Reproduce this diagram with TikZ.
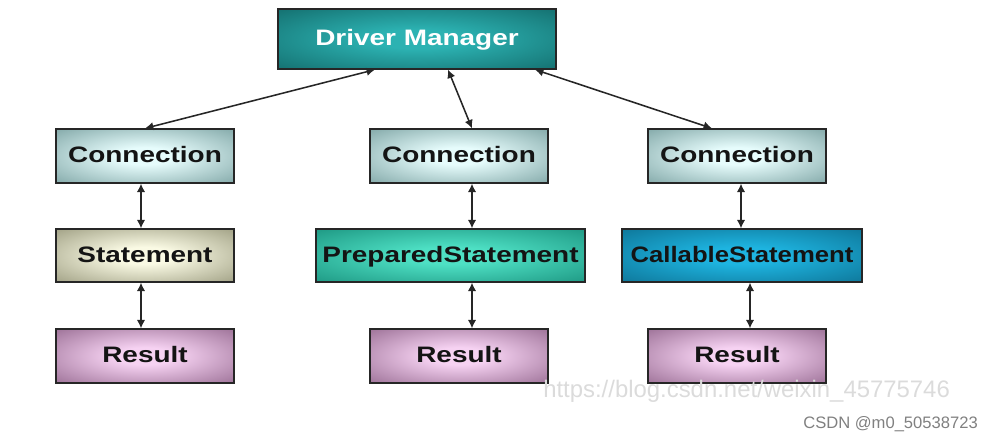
\documentclass[tikz,border=0pt]{standalone}
\usepackage{fontspec}
\setmainfont{Liberation Sans}
\newfontfamily\boxfont[FakeStretch=1.25]{Liberation Sans}
\usetikzlibrary{arrows.meta}

\definecolor{mgrout}{HTML}{0B5656}
\definecolor{mgrin}{HTML}{2CB2B2}
\definecolor{connout}{HTML}{5C8888}
\definecolor{connin}{HTML}{E6FCFC}
\definecolor{stmtout}{HTML}{7E7E60}
\definecolor{stmtin}{HTML}{FAFAE4}
\definecolor{prepout}{HTML}{0B7C6A}
\definecolor{prepin}{HTML}{4EE0C4}
\definecolor{callout}{HTML}{085F7E}
\definecolor{callin}{HTML}{1EB4E0}
\definecolor{resout}{HTML}{7A4C74}
\definecolor{resin}{HTML}{F6D2F2}

% soft glow inside the boxes
\colorlet{boxin}{white}
\colorlet{boxout}{gray}
\pgfdeclareradialshading[boxin,boxout]{glow}{\pgfpointorigin}{color(0bp)=(boxin); color(8bp)=(boxin); color(47bp)=(boxout); color(50bp)=(boxout)}

\begin{document}
\begin{tikzpicture}[x=1cm,y=1cm,>={Latex[length=6pt,width=6pt]}]
  \tikzstyle{box}=[draw=black!85, line width=0.9pt, shade, shading=glow, minimum width=4.45cm, minimum height=1.35cm, inner sep=1pt, text height=11.4pt, text depth=2pt, font=\boxfont\bfseries\fontsize{15.9}{18}\selectfont, text=black!92]
  \tikzstyle{mgr}=[box, /utils/exec={\colorlet{boxin}{mgrin}\colorlet{boxout}{mgrout}}, text=white, minimum width=6.95cm, minimum height=1.5cm]
  \tikzstyle{conn}=[box, /utils/exec={\colorlet{boxin}{connin}\colorlet{boxout}{connout}}]
  \tikzstyle{stmt}=[box, /utils/exec={\colorlet{boxin}{stmtin}\colorlet{boxout}{stmtout}}, minimum height=1.325cm]
  \tikzstyle{prep}=[box, /utils/exec={\colorlet{boxin}{prepin}\colorlet{boxout}{prepout}}, minimum width=6.725cm, minimum height=1.325cm]
  \tikzstyle{call}=[box, /utils/exec={\colorlet{boxin}{callin}\colorlet{boxout}{callout}}, minimum width=6cm, minimum height=1.325cm]
  \tikzstyle{res}=[box, /utils/exec={\colorlet{boxin}{resin}\colorlet{boxout}{resout}}]
  \tikzstyle{arrow}=[<->, line width=1.1pt, black!85]

  \useasboundingbox (0,0) rectangle (24.85,10.95);

  \node[mgr] (dm) at (10.425,9.975) {Driver Manager};

  \node[conn] (c1) at (3.625,7.05) {Connection};
  \node[conn] (c2) at (11.475,7.05) {Connection};
  \node[conn] (c3) at (18.425,7.05) {Connection};

  \node[stmt] (st) at (3.625,4.5625) {Statement};
  \node[prep] (ps) at (11.2625,4.5625) {PreparedStatement};
  \node[call] (cs) at (18.55,4.5625) {\scalebox{0.92}[1]{CallableStatement}};

  \node[res] (r1) at (3.625,2.05) {Result};
  \node[res] (r2) at (11.475,2.05) {Result};
  \node[res] (r3) at (18.425,2.05) {Result};

  \draw[arrow] ([xshift=-1.05cm]dm.south) -- (c1.north);
  \draw[arrow] ([xshift=0.775cm]dm.south) -- ([xshift=0.325cm]c2.north);
  \draw[arrow] ([xshift=2.95cm]dm.south) -- ([xshift=-0.625cm]c3.north);

  \draw[arrow] ([xshift=-0.1cm]c1.south) -- ([xshift=-0.1cm]st.north);
  \draw[arrow] ([xshift=0.325cm]c2.south) -- ([xshift=0.5375cm]ps.north);
  \draw[arrow] ([xshift=0.1cm]c3.south) -- ([xshift=-0.025cm]cs.north);

  \draw[arrow] ([xshift=-0.1cm]st.south) -- ([xshift=-0.1cm]r1.north);
  \draw[arrow] ([xshift=0.5375cm]ps.south) -- ([xshift=0.325cm]r2.north);
  \draw[arrow] ([xshift=0.2cm]cs.south) -- ([xshift=0.325cm]r3.north);

  % watermarks
  \node[anchor=base west, inner sep=0, text=black!14, font=\fontsize{17}{20}\selectfont] (wm) at (13.575,1.0) {https://blog.csdn.net/weixin\_45775746};
  \node[anchor=base west, inner sep=0, text=black!50, font=\fontsize{11.8}{14}\selectfont] (csdn) at (20.075,0.225) {CSDN @m0\_50538723};
\end{tikzpicture}
\end{document}
